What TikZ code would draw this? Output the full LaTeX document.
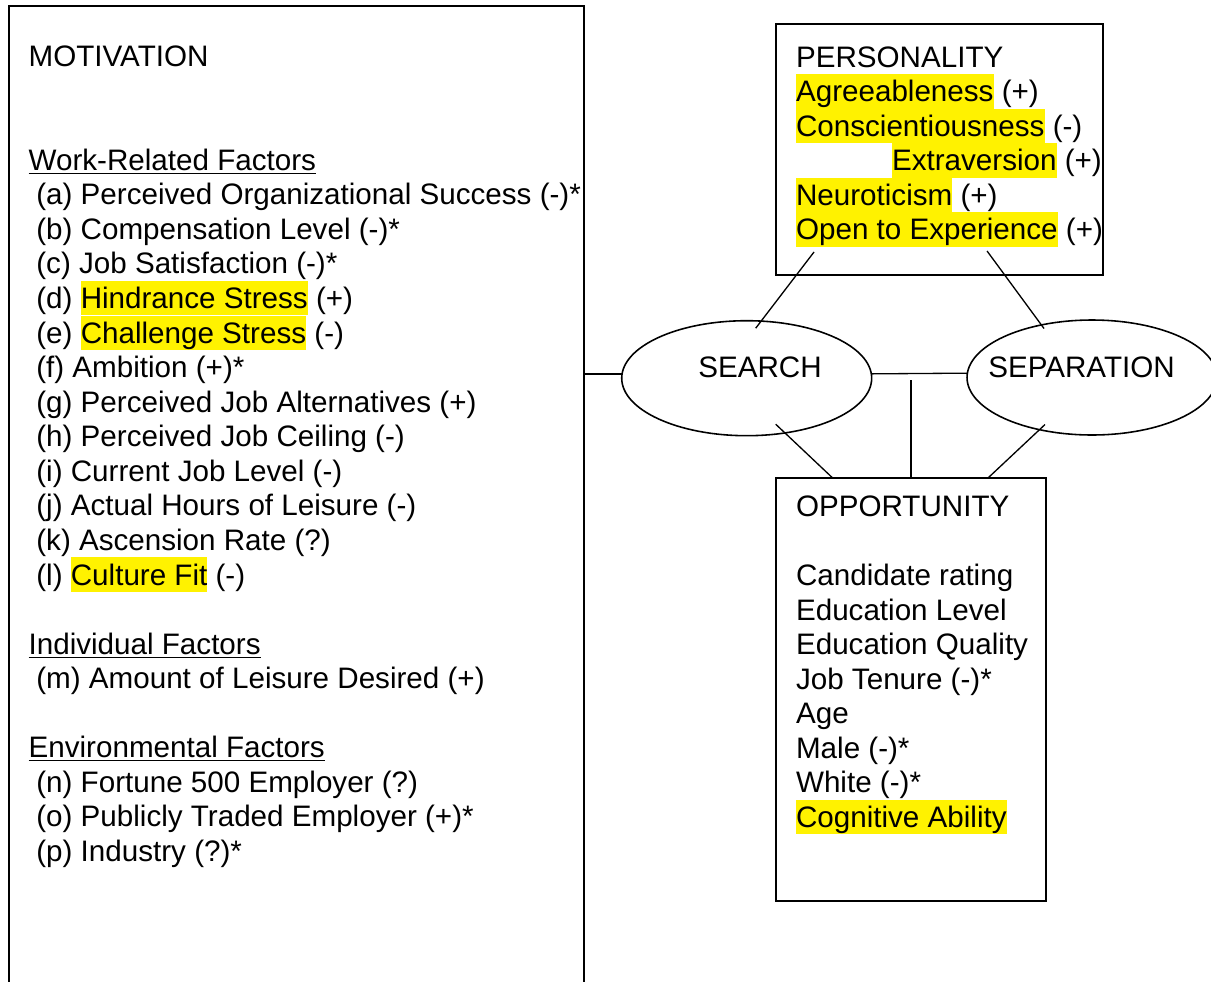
\documentclass[tikz,border=0pt]{standalone}
\usepackage{fontspec}
\setmainfont{Liberation Sans}
\usetikzlibrary{shapes.geometric,calc}
\newcommand{\hlstrut}{\rule[-0.235em]{0pt}{1.165em}}
\newcommand{\hilite}[1]{{\setlength{\fboxsep}{0pt}\colorbox{yellow}{\hlstrut #1}}}
\newcommand{\ind}{\hspace*{0.26em}}
\tikzset{
  box/.style={draw,rectangle,inner sep=0pt,outer sep=0pt,line width=0.9pt},
  thickbox/.style={box,line width=1.4pt},
  oval/.style={draw,ellipse,inner sep=0pt,outer sep=0pt,minimum width=5cm,minimum height=2.3cm,line width=0.9pt},
  txt/.style={inner sep=0pt,anchor=north west,align=left,font=\fontsize{16.85pt}{0.6915cm}\selectfont},
  word/.style={inner sep=0pt,font=\fontsize{16.85pt}{0.6915cm}\selectfont},
  link/.style={line width=0.75pt}
}
\begin{document}
\begin{tikzpicture}[x=0.02cm,y=-0.02cm]
  \useasboundingbox (0,0) rectangle (1211,981);
  % boxes and ovals
  \node[box,minimum width=11.5cm,minimum height=20cm] (mot) at (296.5,506) {};
  \node[thickbox,minimum width=6.54cm,minimum height=5.02cm] (pers) at (939.5,149.5) {};
  \node[box,minimum width=5.4cm,minimum height=8.46cm] (opp) at (911,689.5) {};
  \node[oval] (search) at (746.7,378.2) {};
  \node[oval] (sep) at (1092,377.5) {};
  \node[word] (searchtxt) at (760,367) {SEARCH};
  \node[word] (septxt) at (1081.5,367) {SEPARATION};
  % texts
  \node[txt] (mottxt) at (28.3,38.6) {\hlstrut MOTIVATION\\
    \mbox{}\\
    \mbox{}\\
    \underline{Work-Related Factors}\\
    \ind(a) Perceived Organizational Success (-)*\\
    \ind(b) Compensation Level (-)*\\
    \ind(c) Job Satisfaction (-)*\\
    \ind(d) \hilite{Hindrance Stress} (+)\\
    \ind(e) \hilite{Challenge Stress} (-)\\
    \ind(f) Ambition (+)*\\
    \ind(g) Perceived Job Alternatives (+)\\
    \ind(h) Perceived Job Ceiling (-)\\
    \ind(i) Current Job Level (-)\\
    \ind(j) Actual Hours of Leisure (-)\\
    \ind(k) Ascension Rate (?)\\
    \ind(l) \hilite{Culture Fit} (-)\\
    \mbox{}\\
    \underline{Individual Factors}\\
    \ind(m) Amount of Leisure Desired (+)\\
    \mbox{}\\
    \underline{Environmental Factors}\\
    \ind(n) Fortune 500 Employer (?)\\
    \ind(o) Publicly Traded Employer (+)*\\
    \ind(p) Industry (?)*};
  \node[txt] (perstxt) at (795.7,39.2) {\hlstrut PERSONALITY\\
    \hilite{Agreeableness} (+)\\
    \hilite{Conscientiousness} (-)\\
    \hspace*{1.92cm}\hilite{Extraversion} (+)\\
    \hilite{Neuroticism} (+)\\
    \hilite{Open to Experience} (+)};
  \node[txt] (opptxt) at (795.7,488.5) {\hlstrut OPPORTUNITY\\
    \mbox{}\\
    Candidate rating\\
    Education Level\\
    Education Quality\\
    Job Tenure (-)*\\
    Age\\
    Male (-)*\\
    White (-)*\\
    \hilite{Cognitive Ability}};
  % line ends
  \coordinate (ps1) at ($(pers.south west)+(38,-23)$);
  \coordinate (ps2) at ($(search.center)+(9,-50)$);
  \coordinate (pe1) at ($(pers.south west)+(211,-24)$);
  \coordinate (pe2) at ($(sep.center)+(-48,-49)$);
  \coordinate (so1) at ($(search.center)+(29,46)$);
  \coordinate (eo1) at ($(sep.center)+(-47,47)$);
  \coordinate (jn) at ($(opp.north)+(0,-98)$);
  \draw[link] (search.178) -- (search.178 -| mot.east);
  \draw[link] (search.2) -- (sep.178);
  \draw[link] (jn) -- (opp.north);
  \draw[link] (ps1) -- (ps2);
  \draw[link] (pe1) -- (pe2);
  \draw[link] (so1) -- ($(opp.north west)!0.21!(opp.north east)$);
  \draw[link] (eo1) -- ($(opp.north west)!0.785!(opp.north east)$);
\end{tikzpicture}
\end{document}
